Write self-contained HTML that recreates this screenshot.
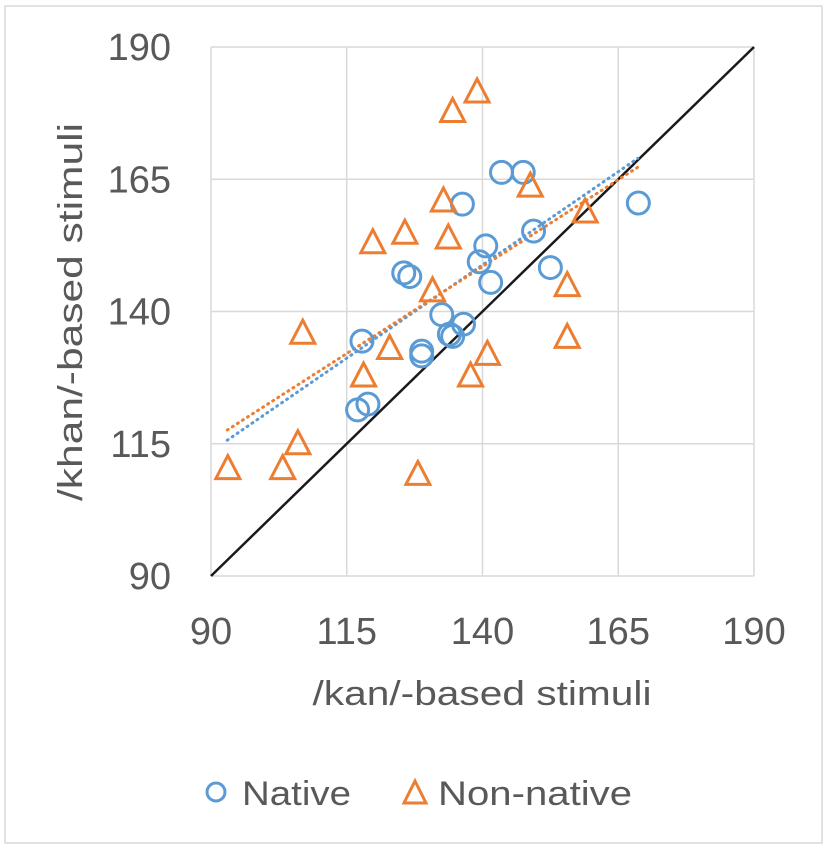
<!DOCTYPE html>
<html><head><meta charset="utf-8"><style>
html,body{margin:0;padding:0;background:#fff;}
svg text{font-family:"Liberation Sans",sans-serif;fill:#595959;}
</style></head><body>
<svg id="chart" width="827" height="849" viewBox="0 0 827 849" xmlns="http://www.w3.org/2000/svg">
<rect x="5" y="6" width="817" height="837" fill="#fff" stroke="#d9d9d9" stroke-width="1.5"/>
<g id="grid"></g>
<g id="axes"></g>
<g id="marks"></g>
<text x="482" y="705" font-size="34" text-anchor="middle" textLength="339" lengthAdjust="spacingAndGlyphs">/kan/-based stimuli</text>
<text transform="translate(82,312) rotate(-90)" font-size="34" text-anchor="middle" textLength="378" lengthAdjust="spacingAndGlyphs">/khan/-based stimuli</text>
<g>
<g>
<circle cx="216" cy="792" r="9" fill="none" stroke="#5B9BD5" stroke-width="3"/>
<text x="242" y="805" font-size="34" textLength="109" lengthAdjust="spacingAndGlyphs">Native</text>
</g>
<g>
<path d="M415,781 L426,803 L404,803 Z" fill="none" stroke="#ED7D31" stroke-width="3"/>
<text x="438" y="805" font-size="34" textLength="194" lengthAdjust="spacingAndGlyphs">Non-native</text>
</g>
</g>
</svg>
<script>
const ticks = [90, 115, 140, 165, 190];
const tickLabels = ["90", "115", "140", "165", "190"];
const nativeX = [117.0, 118.9, 117.8, 125.5, 126.6, 136.3, 143.5, 147.5, 168.7, 149.4, 140.6, 139.4, 141.5, 152.5, 132.5, 136.5, 133.9, 134.5, 128.8, 128.8];
const nativeY = [121.4, 122.5, 134.4, 147.3, 146.6, 160.3, 166.3, 166.3, 160.5, 155.2, 152.4, 149.4, 145.5, 148.3, 139.4, 137.6, 135.7, 135.3, 132.5, 131.6];
const nonNativeX = [93.1, 103.2, 106.0, 106.9, 118.1, 122.9, 119.8, 125.7, 130.8, 132.8, 133.7, 134.5, 139.0, 128.1, 137.8, 140.9, 148.8, 158.9, 155.6, 155.6];
const nonNativeY = [110.3, 110.3, 115.0, 135.9, 127.8, 133.0, 153.0, 154.8, 143.9, 160.9, 153.9, 177.8, 181.5, 109.2, 127.8, 131.9, 163.7, 158.8, 144.9, 135.1];
const nativeTrend = [0.705, 50.1];
const nonNativeTrend = [0.657, 56.5];
const trendRange = [93, 168.6];

const NS = "http://www.w3.org/2000/svg";
const L = 211, R = 754, T = 47, B = 576, MIN = 90, MAX = 190;
const sx = v => L + (v - MIN) / (MAX - MIN) * (R - L);
const sy = v => B - (v - MIN) / (MAX - MIN) * (B - T);
function mk(tag, attrs, parent) {
  const e = document.createElementNS(NS, tag);
  for (const k in attrs) e.setAttribute(k, attrs[k]);
  parent.appendChild(e);
  return e;
}
const grid = document.getElementById('grid');
const axes = document.getElementById('axes');
const marks = document.getElementById('marks');
ticks.forEach((t, i) => {
  const v = mk('line', {x1: sx(t), x2: sx(t), y1: T, y2: B, stroke: '#d9d9d9', 'stroke-width': 1.5}, grid);
  
  
  const h = mk('line', {x1: L, x2: R, y1: sy(t), y2: sy(t), stroke: '#d9d9d9', 'stroke-width': 1.5}, grid);
  
  
  const xl = mk('text', {x: sx(t), y: 644, 'font-size': 38, 'text-anchor': 'middle'}, axes);
  xl.textContent = tickLabels[i];
  
  
  const yl = mk('text', {x: 171, y: sy(t) + 13, 'font-size': 38, 'text-anchor': 'end'}, axes);
  yl.textContent = tickLabels[i];
  
  
});
const idl = mk('line', {x1: sx(MIN), y1: sy(MIN), x2: sx(MAX), y2: sy(MAX), stroke: '#1a1a1a', 'stroke-width': 2.5}, marks);


function trend(coef, color, name) {
  const m = coef[0], b = coef[1];
  const x0 = trendRange[0], x1 = trendRange[1];
  const ln = mk('line', {x1: sx(x0), y1: sy(m * x0 + b), x2: sx(x1), y2: sy(m * x1 + b), stroke: color, 'stroke-width': 3, 'stroke-dasharray': '1 5', 'stroke-linecap': 'round'}, marks);
  
  
}
trend(nativeTrend, '#5B9BD5', 'native-trendline');
trend(nonNativeTrend, '#ED7D31', 'non-native-trendline');
nativeX.forEach((x, i) => {
  const c = mk('circle', {cx: sx(x), cy: sy(nativeY[i]), r: 11, fill: 'none', stroke: '#5B9BD5', 'stroke-width': 3}, marks);
  
  
});
nonNativeX.forEach((x, i) => {
  const cx = sx(x), cy = sy(nonNativeY[i]);
  const p = mk('path', {d: `M${cx},${cy - 13} L${cx + 12},${cy + 10} L${cx - 12},${cy + 10} Z`, fill: 'none', stroke: '#ED7D31', 'stroke-width': 3}, marks);
  
  
});
</script>
</body></html>
